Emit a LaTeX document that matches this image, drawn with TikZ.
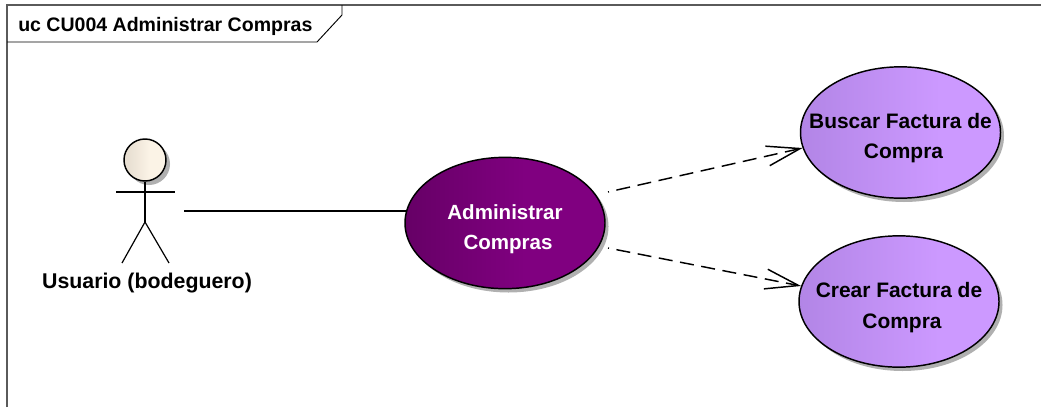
\documentclass[tikz,border=0pt]{standalone}
\usepackage{fontspec}
\setmainfont{Liberation Sans}
\usetikzlibrary{arrows.meta,shapes.geometric}
\definecolor{ucd1}{HTML}{660066}
\definecolor{ucd2}{HTML}{800080}
\definecolor{ucl1}{HTML}{B285E6}
\definecolor{ucl2}{HTML}{CC99FF}
\definecolor{uch1}{HTML}{E8DFD2}
\definecolor{uch2}{HTML}{FBF3E6}
\definecolor{ucshadow}{HTML}{B0B0B0}
\definecolor{ucframe}{HTML}{5A5A5A}
\pgfdeclarehorizontalshading{ucdark}{100bp}{color(0bp)=(ucd1); color(25bp)=(ucd1); color(55bp)=(ucd2); color(100bp)=(ucd2)}
\pgfdeclarehorizontalshading{uclight}{100bp}{color(0bp)=(ucl1); color(25bp)=(ucl1); color(60bp)=(ucl2); color(100bp)=(ucl2)}
\pgfdeclarehorizontalshading{ucskin}{100bp}{color(0bp)=(uch1); color(30bp)=(uch1); color(55bp)=(uch2); color(100bp)=(uch2)}
\newcommand{\toppad}{\rule{0pt}{20.5pt}}
\newcommand{\linepad}{\hspace*{4.5pt}}
\tikzset{
  x=0.75pt,y=-0.75pt,
  usecase/.style={ellipse,draw=black,line width=1.1pt,minimum width=150pt,minimum height=98.5pt,inner sep=-22pt,align=center},
  darkcase/.style={usecase,shading=ucdark,text=white,font=\fontsize{15.4pt}{22.5pt}\selectfont\bfseries},
  lightcase/.style={usecase,shading=uclight,text=black,font=\fontsize{15.7pt}{22.5pt}\selectfont\bfseries},
  caseshadow/.style={fill=ucshadow,draw=none},
  assoc/.style={line width=1.1pt,draw=black},
  depend/.style={line width=1.1pt,draw=black,dash pattern=on 10.5pt off 5.7pt,dash phase=9.75pt,-{Straight Barb[length=25pt,width=15pt,line width=1.1pt]}},
  stick/.style={line width=0.9pt,draw=black},
  actorbox/.style={minimum width=58.5pt,minimum height=108pt,inner sep=0pt},
  titletext/.style={font=\fontsize{14.65pt}{17pt}\selectfont\bfseries,inner sep=0pt,anchor=west},
  actortext/.style={font=\fontsize{16pt}{19pt}\selectfont\bfseries,inner sep=0pt}
}
\begin{document}
\begin{tikzpicture}
\useasboundingbox[fill=white] (0,0) rectangle (1041,407);
% frame
\draw[ucframe,line width=0.9pt] (7,407) -- (7,5) -- (1041,5);
\draw[black,line width=0.7pt] (7,42) -- (317,42) -- (342,15) -- (342,5);
\node[titletext] (title) at (18,26) {uc CU004 Administrar Compras};
% shadows
\fill[caseshadow] (508.5,226.5) ellipse [x radius=100,y radius=66];
\fill[caseshadow] (904,136) ellipse [x radius=100,y radius=66];
\fill[caseshadow] (902.5,305) ellipse [x radius=100,y radius=66];
\fill[caseshadow] (149,164) circle [radius=21];
% use cases
\node[darkcase] (admin) at (505,223) {\toppad Administrar\\\linepad Compras};
\node[lightcase] (buscar) at (900.5,132.5) {\toppad Buscar Factura de\\\linepad Compra};
\node[lightcase] (crear) at (899,301.5) {\toppad Crear Factura de\\\linepad Compra};
% actor
\node[actorbox] (actor) at (145,211) {};
\node[circle,draw=black,line width=1.1pt,shading=ucskin,minimum size=31.5pt,inner sep=0pt] (head) at (145,160) {};
\coordinate (hip) at (145,222);
\coordinate (armL) at (116,192);
\coordinate (armR) at (175,192);
\coordinate (legL) at (122,263);
\coordinate (legR) at (169,263);
\draw[stick] (head.south) -- (hip);
\draw[stick] (armL) -- (armR);
\draw[stick] (legL) -- (hip) -- (legR);
\node[actortext] (actorlabel) at (147,283) {Usuario (bodeguero)};
% connectors
\draw[assoc] (actor.east) -- (actor.east -| admin.173);
\coordinate (d1) at (608,192);
\coordinate (d2) at (608,248);
\draw[depend] (d1) -- (buscar.189.5);
\draw[depend] (d2) -- (crear.171.7);
\end{tikzpicture}
\end{document}
